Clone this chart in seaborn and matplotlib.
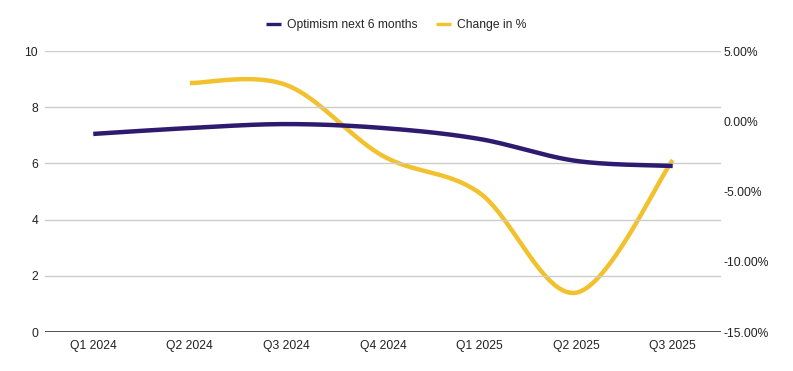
import numpy as np
import pandas as pd
import matplotlib
matplotlib.use("Agg")
import matplotlib.pyplot as plt
import seaborn as sns
from matplotlib.lines import Line2D
from matplotlib.ticker import FuncFormatter

quarters = ["Q1 2024", "Q2 2024", "Q3 2024", "Q4 2024", "Q1 2025", "Q2 2025", "Q3 2025"]
optimism = [7.05, 7.26, 7.40, 7.26, 6.87, 6.09, 5.91]
change_pct = [None, 2.72, 2.58, -2.47, -5.1, -12.2, -2.76]

PURPLE = "#2e1a6e"
YELLOW = "#f2c12e"

sns.set_theme(style="white")
plt.rcParams["font.family"] = ["Liberation Sans", "DejaVu Sans"]

FS = 8.7


def smooth(xs, ys, n=40, k=0.5):
    xs = np.asarray(xs, float)
    ys = np.asarray(ys, float)
    outx, outy = [], []
    m = len(xs)
    for i in range(m - 1):
        p0 = np.array([xs[max(i - 1, 0)], ys[max(i - 1, 0)]])
        p1 = np.array([xs[i], ys[i]])
        p2 = np.array([xs[i + 1], ys[i + 1]])
        p3 = np.array([xs[min(i + 2, m - 1)], ys[min(i + 2, m - 1)]])
        c1 = p1 + (p2 - p0) * k / 3.0
        c2 = p2 - (p3 - p1) * k / 3.0
        t = np.linspace(0, 1, n, endpoint=(i == m - 2))
        b = ((1 - t) ** 3)[:, None] * p1 + (3 * (1 - t) ** 2 * t)[:, None] * c1 \
            + (3 * (1 - t) * t ** 2)[:, None] * c2 + (t ** 3)[:, None] * p2
        outx.extend(b[:, 0])
        outy.extend(b[:, 1])
    return np.array(outx), np.array(outy)


fig = plt.figure(figsize=(7.93, 3.71), dpi=100)
ax = fig.add_axes([0.0567, 0.105, 0.8525, 0.7575])
ax2 = ax.twinx()

pos = np.arange(len(quarters))
sx, sy = smooth(pos, optimism)
sns.lineplot(x=sx, y=sy, ax=ax, color=PURPLE, linewidth=3.2, sort=False,
             estimator=None, solid_capstyle="butt")

cx = [p for p, v in zip(pos, change_pct) if v is not None]
cy = [v for v in change_pct if v is not None]
tx, ty = smooth(cx, cy)
sns.lineplot(x=tx, y=ty, ax=ax2, color=YELLOW, linewidth=3.2, sort=False,
             estimator=None, solid_capstyle="butt")

ax.set_xlim(-0.5, len(quarters) - 0.5)
ax.set_ylim(0, 10)
ax.set_yticks([0, 2, 4, 6, 8, 10])
ax.set_xticks(pos)
ax.set_xticklabels(quarters)
ax2.set_ylim(-15, 5)
ax2.set_yticks([-15, -10, -5, 0, 5])
ax2.yaxis.set_major_formatter(FuncFormatter(lambda v, _: f"{v:.2f}%"))

ax.grid(axis="y", color="#cccccc", linewidth=1)
ax.grid(axis="x", visible=False)
ax2.grid(False)
for a in (ax, ax2):
    for s in a.spines.values():
        s.set_visible(False)
    a.tick_params(length=0, labelsize=FS, colors="#222222")
ax.axhline(0, color="#333333", linewidth=1.2, zorder=3)
ax.tick_params(axis="y", pad=5)
ax.tick_params(axis="x", pad=5.5)
ax2.tick_params(axis="y", pad=1.5)
ax.set_zorder(ax2.get_zorder() + 1)
ax.patch.set_visible(False)

handles = [Line2D([0], [0], color=PURPLE, linewidth=2.4, solid_capstyle="butt"),
           Line2D([0], [0], color=YELLOW, linewidth=2.4, solid_capstyle="butt")]
fig.legend(handles, ["Optimism next 6 months", "Change in %"], loc="center",
           bbox_to_anchor=(0.5, 0.933), ncol=2, frameon=False, fontsize=FS,
           handlelength=1.25, columnspacing=1.5, handletextpad=0.5)

fig.savefig("out.png", dpi=100)
